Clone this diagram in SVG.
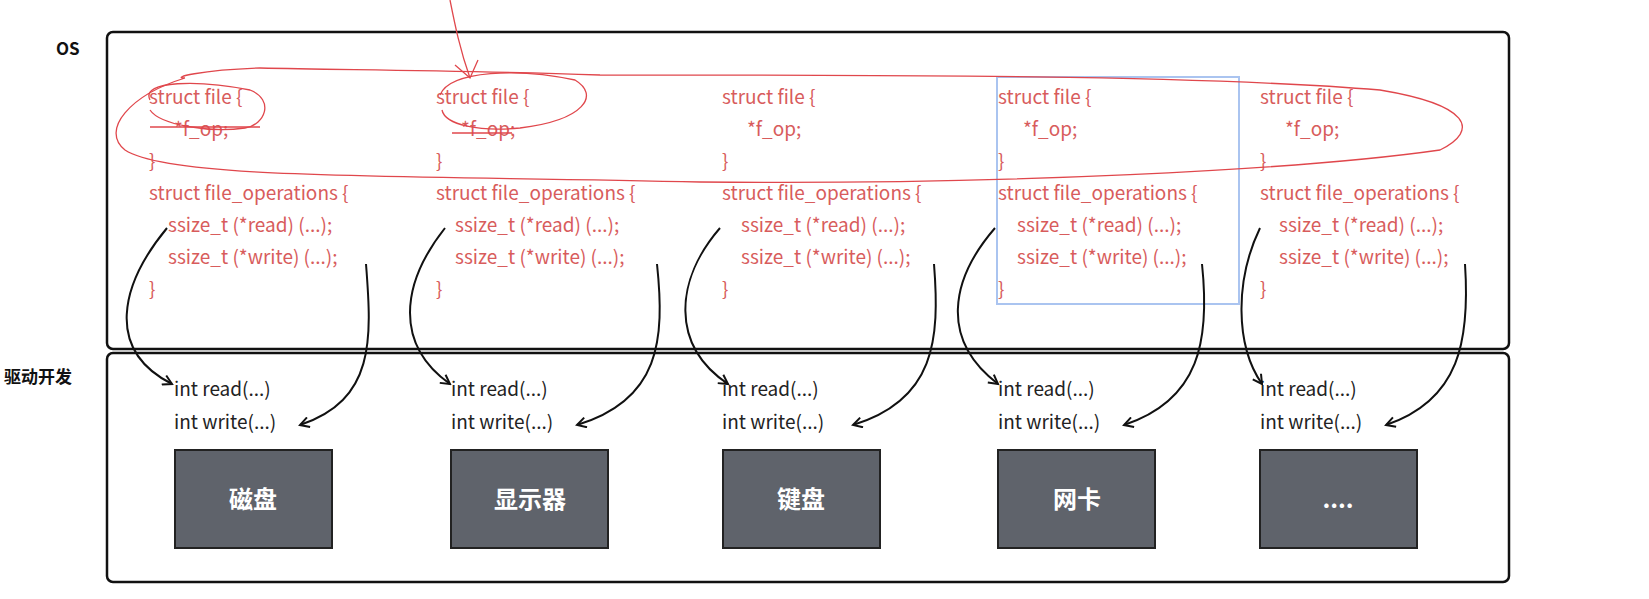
<svg xmlns="http://www.w3.org/2000/svg" width="1649" height="599" viewBox="0 0 1649 599">
<style>
.c{font-family:"Noto Sans CJK SC","Noto Sans",sans-serif;font-size:19px;fill:#d85c5c}
.d{font-family:"Noto Sans CJK SC","Noto Sans",sans-serif;font-size:19px;fill:#222}
.l{font-family:"Noto Sans CJK SC","Noto Sans",sans-serif;font-size:17px;font-weight:bold;fill:#111}
.b{fill:#5f636b;stroke:#222;stroke-width:2}
.bt{font-family:"Noto Sans CJK SC","Noto Sans",sans-serif;font-size:24px;font-weight:bold;fill:#fff;text-anchor:middle}
.k{fill:none;stroke:#111;stroke-width:2;marker-end:url(#a)}
.r{fill:none;stroke:#e0474c;stroke-width:1.3}
</style>
<defs><marker id="a" viewBox="0 0 12 12" refX="10" refY="6" markerWidth="12" markerHeight="12" markerUnits="userSpaceOnUse" orient="auto"><path d="M1 1 L10 6 L1 11" fill="none" stroke="#111" stroke-width="2"/></marker></defs>
<rect width="1649" height="599" fill="#fff"/>
<g id="os"><rect x="107" y="32" width="1402" height="317" rx="6" fill="none" stroke="#111" stroke-width="2.5"/><text class="l" x="56" y="55">OS</text></g>
<g id="drv"><rect x="107" y="353" width="1402" height="229" rx="6" fill="none" stroke="#111" stroke-width="2.5"/><text class="l" x="4" y="383">驱动开发</text></g>
<g id="code">
<g transform="translate(149,0)"><text class="c" x="0" y="104">struct file {</text><text class="c" x="25" y="136">*f_op;</text><text class="c" x="0" y="168">}</text><text class="c" x="0" y="200">struct file_operations {</text><text class="c" x="19" y="232">ssize_t (*read) (...);</text><text class="c" x="19" y="264">ssize_t (*write) (...);</text><text class="c" x="0" y="296">}</text></g>
<g transform="translate(436,0)"><text class="c" x="0" y="104">struct file {</text><text class="c" x="25" y="136">*f_op;</text><text class="c" x="0" y="168">}</text><text class="c" x="0" y="200">struct file_operations {</text><text class="c" x="19" y="232">ssize_t (*read) (...);</text><text class="c" x="19" y="264">ssize_t (*write) (...);</text><text class="c" x="0" y="296">}</text></g>
<g transform="translate(722,0)"><text class="c" x="0" y="104">struct file {</text><text class="c" x="25" y="136">*f_op;</text><text class="c" x="0" y="168">}</text><text class="c" x="0" y="200">struct file_operations {</text><text class="c" x="19" y="232">ssize_t (*read) (...);</text><text class="c" x="19" y="264">ssize_t (*write) (...);</text><text class="c" x="0" y="296">}</text></g>
<g transform="translate(998,0)"><text class="c" x="0" y="104">struct file {</text><text class="c" x="25" y="136">*f_op;</text><text class="c" x="0" y="168">}</text><text class="c" x="0" y="200">struct file_operations {</text><text class="c" x="19" y="232">ssize_t (*read) (...);</text><text class="c" x="19" y="264">ssize_t (*write) (...);</text><text class="c" x="0" y="296">}</text></g>
<g transform="translate(1260,0)"><text class="c" x="0" y="104">struct file {</text><text class="c" x="25" y="136">*f_op;</text><text class="c" x="0" y="168">}</text><text class="c" x="0" y="200">struct file_operations {</text><text class="c" x="19" y="232">ssize_t (*read) (...);</text><text class="c" x="19" y="264">ssize_t (*write) (...);</text><text class="c" x="0" y="296">}</text></g>
</g>
<rect x="997" y="77" width="242" height="227" fill="none" stroke="#aac4f0" stroke-width="2"/>
<g id="funcs">
<text class="d" x="174" y="396">int  read(...)</text><text class="d" x="174" y="429">int  write(...)</text>
<text class="d" x="451" y="396">int  read(...)</text><text class="d" x="451" y="429">int  write(...)</text>
<text class="d" x="722" y="396">int  read(...)</text><text class="d" x="722" y="429">int  write(...)</text>
<text class="d" x="998" y="396">int  read(...)</text><text class="d" x="998" y="429">int  write(...)</text>
<text class="d" x="1260" y="396">int  read(...)</text><text class="d" x="1260" y="429">int  write(...)</text>
</g>
<g id="n1"><rect class="b" x="175" y="450" width="157" height="98"/><text class="bt" x="253" y="508">磁盘</text></g>
<g id="n2"><rect class="b" x="451" y="450" width="157" height="98"/><text class="bt" x="530" y="508">显示器</text></g>
<g id="n3"><rect class="b" x="723" y="450" width="157" height="98"/><text class="bt" x="801" y="508">键盘</text></g>
<g id="n4"><rect class="b" x="998" y="450" width="157" height="98"/><text class="bt" x="1077" y="508">网卡</text></g>
<g id="n5"><rect class="b" x="1260" y="450" width="157" height="98"/><text class="bt" x="1338" y="508">....</text></g>
<g id="connectors">
<path class="k" d="M167 228 C120 285,105 350,172 384"/><path class="k" d="M366 264 C372 340,375 400,300 425"/>
<path class="k" d="M445 228 C400 285,395 345,450 384"/><path class="k" d="M657 264 C665 340,660 400,577 425"/>
<path class="k" d="M720 228 C675 280,670 345,728 384"/><path class="k" d="M934 264 C940 340,935 400,853 425"/>
<path class="k" d="M995 228 C950 280,940 340,998 384"/><path class="k" d="M1202 264 C1210 340,1200 400,1124 425"/>
<path class="k" d="M1260 228 C1235 280,1235 345,1262 384"/><path class="k" d="M1465 264 C1470 340,1460 400,1386 425"/>
</g>
<g id="ink">
<path class="r" d="M185 78 C130 95,100 130,125 150 C170 180,400 175,700 182 C1000 185,1300 170,1440 150 C1480 130,1470 105,1380 90 C1200 75,900 75,600 75 C450 70,350 70,260 68 C200 70,170 78,185 78"/>
<path class="r" d="M150 100 C140 80,200 80,250 90 C275 100,265 125,245 128 C210 133,160 125,150 110"/>
<path class="r" d="M150 127 L260 127"/>
<path class="r" d="M440 95 C450 70,520 68,575 80 C600 95,585 120,520 128 C480 132,445 125,442 110"/>
<path class="r" d="M452 133 L512 133"/>
<path class="r" d="M450 0 C455 25,460 50,470 78 M455 65 L470 78 L478 60"/>
</g>
</svg>
